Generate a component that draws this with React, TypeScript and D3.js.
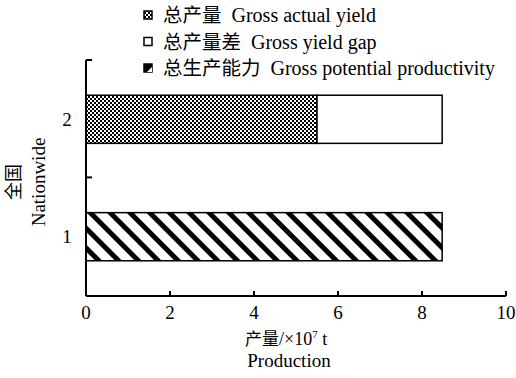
import * as d3 from "d3";
import * as React from "react";

// data
const categories = ["2", "1"];
const actualYield = [5.5, 0];
const yieldGap = [2.98, 0];
const potentialYield = [0, 8.48];
const xTicks = [0, 2, 4, 6, 8, 10];
const legendCn = ["总产量", "总产量差", "总生产能力"];
const legendEn = ["Gross actual yield", "Gross yield gap", "Gross potential productivity"];

const W = 516;
const H = 378;
const serif = "Liberation Serif";
const cjk = "Noto Sans CJK SC";

export default function App() {
  const x = d3.scaleLinear().domain([0, 10]).range([86, 506]);
  const y = d3
    .scaleBand<string>()
    .domain(categories)
    .range([60, 296])
    .paddingInner(0.59)
    .paddingOuter(0.3);

  const bw = y.bandwidth();
  const step = y.step();
  const y0 = 60;
  const y1 = 296;
  const yTicks = [y0, y0 + step, y1];

  return (
    <svg
      width={W}
      height={H}
      style={{ position: "absolute", left: 0, top: 0, background: "#fff" }}
      fontFamily={serif}
    >
      <defs>
        <pattern id="checker" width="4" height="4" patternUnits="userSpaceOnUse">
          <rect width="4" height="4" fill="#fff" />
          <rect width="2" height="2" fill="#000" />
          <rect x="2" y="2" width="2" height="2" fill="#000" />
        </pattern>
        <pattern
          id="stripes"
          width="14"
          height="14"
          patternUnits="userSpaceOnUse"
          patternTransform="rotate(45)"
        >
          <rect width="14" height="14" fill="#fff" />
          <rect width="14" height="5" fill="#000" />
        </pattern>
      </defs>

      {/* bars */}
      {categories.map((c, i) => {
        const yy = y(c)!;
        return (
          <g key={c}>
            {actualYield[i] > 0 && (
              <rect
                x={x(0)}
                y={yy}
                width={x(actualYield[i]) - x(0)}
                height={bw}
                fill="url(#checker)"
                stroke="#000"
                strokeWidth={1.5}
              />
            )}
            {yieldGap[i] > 0 && (
              <rect
                x={x(actualYield[i])}
                y={yy}
                width={x(actualYield[i] + yieldGap[i]) - x(actualYield[i])}
                height={bw}
                fill="#fff"
                stroke="#000"
                strokeWidth={1.5}
              />
            )}
            {potentialYield[i] > 0 && (
              <rect
                x={x(0)}
                y={yy}
                width={x(potentialYield[i]) - x(0)}
                height={bw}
                fill="url(#stripes)"
                stroke="#000"
                strokeWidth={1.5}
              />
            )}
            <text x={67} y={yy + bw / 2} dy="0.35em" textAnchor="middle" fontSize={19}>
              {c}
            </text>
          </g>
        );
      })}

      {/* y axis */}
      <line x1={86} x2={86} y1={y0} y2={y1} stroke="#000" strokeWidth={2} />
      {yTicks.map((t, i) => (
        <line key={i} x1={86} x2={92} y1={t} y2={t} stroke="#000" strokeWidth={2} />
      ))}

      {/* x axis */}
      <line x1={x(0)} x2={x(10)} y1={y1} y2={y1} stroke="#000" strokeWidth={2} />
      {xTicks.map((t) => (
        <g key={t}>
          <line x1={x(t)} x2={x(t)} y1={y1} y2={y1 - 5} stroke="#000" strokeWidth={2} />
          <text x={x(t)} y={319} textAnchor="middle" fontSize={19}>
            {t}
          </text>
        </g>
      ))}

      {/* axis titles */}
      <text x={245} y={345} fontSize={18}>
        <tspan fontFamily={cjk} fontSize={17}>产量</tspan>
        <tspan>/×10</tspan>
        <tspan fontSize={11} dy={-7}>
          7
        </tspan>
        <tspan dy={7}> t</tspan>
      </text>
      <text x={289} y={367} textAnchor="middle" fontSize={19}>
        Production
      </text>
      <g transform="translate(14,182) rotate(-90)">
        <text textAnchor="middle" dy="0.35em" fontSize={18} fontFamily={cjk}>
          全国
        </text>
      </g>
      <g transform="translate(38,182) rotate(-90)">
        <text textAnchor="middle" dy="0.35em" fontSize={19}>
          Nationwide
        </text>
      </g>

      {/* legend */}
      {legendCn.map((l, i) => {
        const cy = 15 + i * 26.5;
        const fill = i === 0 ? "url(#checker)" : i === 1 ? "#fff" : "#000";
        return (
          <g key={l}>
            <rect
              x={144}
              y={cy - 4}
              width={8}
              height={8}
              fill={fill}
              stroke="#000"
              strokeWidth={1.5}
            />
            {i === 2 && (
              <path
                d={`M152,${cy - 1} L152,${cy + 4} L147,${cy + 4} Z`}
                fill="#fff"
              />
            )}
            <text x={163} y={cy} dy="0.35em" fontSize={20}>
              <tspan fontFamily={cjk} fontSize={19.5}>{l}</tspan>
              <tspan dx={10}>{legendEn[i]}</tspan>
            </text>
          </g>
        );
      })}
    </svg>
  );
}
